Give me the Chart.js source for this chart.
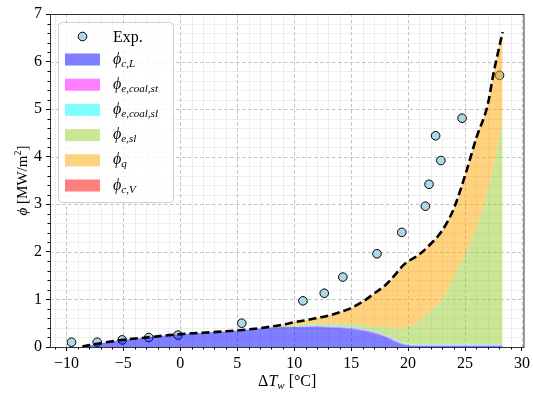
<!DOCTYPE html>
<html>
<head>
<meta charset="utf-8">
<script src="https://cdn.jsdelivr.net/npm/chart.js@4.4.1/dist/chart.umd.min.js"></script>
<style>
  html, body { margin: 0; padding: 0; background: #fff; }
  #wrap { width: 533px; height: 394px; }
</style>
</head>
<body>
<div id="wrap"><canvas id="fluxChart" width="533" height="394"></canvas></div>
<script>
// wall superheat grid of the model [°C]
const deltaT = [-8.6, -7, -5, -3, -1, 0, 2, 4, 6, 8, 9, 10, 11, 12, 13, 14, 15, 16, 17, 18,
  18.5, 19, 19.5, 20, 20.5, 21, 22, 23, 24, 25, 26, 27, 27.5, 28, 28.3];

// heat flux partition [MW/m2], stacked in this order
const phiCL = [0.01, 0.08, 0.15, 0.20, 0.25, 0.27, 0.30, 0.33, 0.37, 0.41, 0.42, 0.42, 0.42, 0.42, 0.41, 0.40, 0.38, 0.34, 0.29, 0.21,
  0.16, 0.10, 0.05, 0.03, 0.02, 0.02, 0.02, 0.02, 0.02, 0.02, 0.02, 0.02, 0.02, 0.02, 0.02];
const phiCoalSt = [0, 0, 0, 0, 0, 0, 0, 0, 0, 0, 0, 0, 0.01, 0.02, 0.02, 0.02, 0.02, 0.02, 0.02, 0.02,
  0.02, 0.02, 0.02, 0.01, 0.01, 0.01, 0.01, 0.01, 0.01, 0.01, 0.01, 0.01, 0.01, 0.01, 0.01];
const phiCoalSl = [0, 0, 0, 0, 0, 0, 0, 0, 0, 0, 0, 0, 0.01, 0.02, 0.02, 0.02, 0.02, 0.02, 0.02, 0.02,
  0.02, 0.02, 0.02, 0.03, 0.03, 0.03, 0.03, 0.03, 0.03, 0.03, 0.03, 0.03, 0.03, 0.03, 0.03];
const phiESl = [0, 0, 0, 0, 0, 0, 0, 0, 0, 0.01, 0.02, 0.05, 0.05, 0.04, 0.05, 0.06, 0.07, 0.09, 0.11, 0.16,
  0.20, 0.25, 0.30, 0.35, 0.41, 0.49, 0.69, 0.94, 1.39, 1.89, 2.44, 3.24, 3.74, 4.34, 4.79];
const phiQ = [0, 0, 0, 0, 0, 0, 0, 0, 0, 0.01, 0.03, 0.05, 0.07, 0.11, 0.16, 0.23, 0.33, 0.48, 0.68, 0.89,
  1.02, 1.17, 1.31, 1.38, 1.40, 1.40, 1.42, 1.45, 1.45, 1.65, 1.90, 1.80, 1.95, 1.90, 1.77];
const phiCV = [0, 0, 0, 0, 0, 0, 0, 0, 0, 0, 0, 0, 0, 0, 0, 0, 0, 0, 0, 0,
  0, 0, 0, 0, 0, 0, 0, 0, 0, 0, 0, 0, 0, 0, 0];

// total model heat flux
const phiTotal = [0.01, 0.08, 0.15, 0.20, 0.25, 0.27, 0.30, 0.33, 0.37, 0.43, 0.47, 0.52, 0.56, 0.61, 0.66, 0.73, 0.82, 0.95, 1.12, 1.30,
  1.42, 1.56, 1.70, 1.80, 1.87, 1.95, 2.17, 2.45, 2.90, 3.60, 4.40, 5.10, 5.75, 6.30, 6.62];

// measurements
const expDeltaT = [-9.55, -7.3, -5.1, -2.77, -0.2, 5.4, 10.77, 12.64, 14.27, 17.27, 19.45, 21.52, 21.84, 22.42, 22.88, 24.74, 28.03];
const expPhi = [0.10, 0.10, 0.15, 0.20, 0.25, 0.50, 0.97, 1.13, 1.47, 1.96, 2.41, 2.96, 3.42, 4.44, 3.92, 4.81, 5.71];

const xTicks = [-10, -5, 0, 5, 10, 15, 20, 25, 30];
const yTicks = [0, 1, 2, 3, 4, 5, 6, 7];

const serif = '"Liberation Serif", "DejaVu Serif", serif';

const areas = [
  { sub: 'c,L', values: phiCL, color: 'rgba(0, 0, 255, 0.5)' },
  { sub: 'e,coal,st', values: phiCoalSt, color: 'rgba(255, 0, 255, 0.5)' },
  { sub: 'e,coal,sl', values: phiCoalSl, color: 'rgba(0, 255, 255, 0.5)' },
  { sub: 'e,sl', values: phiESl, color: 'rgba(154, 205, 50, 0.5)' },
  { sub: 'q', values: phiQ, color: 'rgba(255, 165, 0, 0.5)' },
  { sub: 'c,V', values: phiCV, color: 'rgba(255, 0, 0, 0.5)' }
];

const toPoints = (xs, ys) => xs.map((x, i) => ({ x, y: ys[i] }));

const areaSets = areas.map((a, i) => ({
  type: 'line',
  label: 'phi_' + a.sub,
  data: toPoints(deltaT, a.values),
  stack: 'model',
  fill: i === 0 ? 'origin' : '-1',
  backgroundColor: a.color,
  borderWidth: 0,
  pointRadius: 0,
  cubicInterpolationMode: 'monotone',
  order: 5
}));

const totalSet = {
  type: 'line',
  label: 'total',
  data: toPoints(deltaT, phiTotal),
  stack: 'total',
  fill: false,
  borderColor: '#000',
  borderWidth: 2.6,
  borderDash: [8, 4],
  pointRadius: 0,
  cubicInterpolationMode: 'monotone',
  order: 0
};

const expSet = {
  type: 'scatter',
  label: 'Exp.',
  data: toPoints(expDeltaT, expPhi),
  stack: 'exp',
  backgroundColor: 'lightblue',
  borderColor: '#000',
  borderWidth: 1,
  pointRadius: 4.3,
  order: 10
};

// minor/major grid under the data
const gridPlugin = {
  id: 'mplGrid',
  beforeDatasetsDraw(chart) {
    const { ctx, chartArea: a, scales: { x, y } } = chart;
    ctx.save();
    ctx.lineWidth = 0.6;
    ctx.strokeStyle = '#e4e4e4';
    for (let v = -11; v <= 30; v += 1) {
      if (v % 5 === 0) continue;
      const px = Math.round(x.getPixelForValue(v)) + 0.5;
      ctx.beginPath(); ctx.moveTo(px, a.top); ctx.lineTo(px, a.bottom); ctx.stroke();
    }
    for (let k = 1; k < 35; k++) {
      if (k % 5 === 0) continue;
      const py = Math.round(y.getPixelForValue(k * 0.2)) + 0.5;
      ctx.beginPath(); ctx.moveTo(a.left, py); ctx.lineTo(a.right, py); ctx.stroke();
    }
    ctx.strokeStyle = '#b4b4b4';
    ctx.lineWidth = 0.8;
    ctx.setLineDash([3.5, 2.5]);
    xTicks.forEach((v) => {
      const px = Math.round(x.getPixelForValue(v)) + 0.5;
      ctx.beginPath(); ctx.moveTo(px, a.top); ctx.lineTo(px, a.bottom); ctx.stroke();
    });
    yTicks.forEach((v) => {
      const py = Math.round(y.getPixelForValue(v)) + 0.5;
      ctx.beginPath(); ctx.moveTo(a.left, py); ctx.lineTo(a.right, py); ctx.stroke();
    });
    ctx.restore();
  },
  afterDatasetsDraw(chart) {
    const { ctx, chartArea: a, scales: { x, y } } = chart;
    ctx.save();
    // spines
    ctx.strokeStyle = '#333';
    ctx.lineWidth = 1;
    ctx.strokeRect(a.left + 0.5, a.top + 0.5, a.right - a.left - 1, a.bottom - a.top);
    // minor ticks
    ctx.strokeStyle = '#000';
    ctx.beginPath();
    for (let v = -11; v <= 30; v += 1) {
      if (v % 5 === 0) continue;
      const px = Math.round(x.getPixelForValue(v)) + 0.5;
      ctx.moveTo(px, a.bottom); ctx.lineTo(px, a.bottom + 2.5);
    }
    for (let k = 1; k < 35; k++) {
      if (k % 5 === 0) continue;
      const py = Math.round(y.getPixelForValue(k * 0.2)) + 0.5;
      ctx.moveTo(a.left, py); ctx.lineTo(a.left - 2.5, py);
    }
    ctx.stroke();
    ctx.restore();
  }
};

// axis titles and legend with sub/superscripts
const drawRuns = (ctx, runs, x, y) => {
  let cx = x;
  runs.forEach((r) => {
    ctx.font = r.font;
    ctx.fillText(r.text, cx, y + (r.dy || 0));
    cx += ctx.measureText(r.text).width;
  });
  return cx;
};
const runsWidth = (ctx, runs) => runs.reduce((w, r) => {
  ctx.font = r.font;
  return w + ctx.measureText(r.text).width;
}, 0);

const textPlugin = {
  id: 'mplText',
  afterDraw(chart) {
    const { ctx, chartArea: a } = chart;
    ctx.save();
    ctx.fillStyle = '#000';
    ctx.textBaseline = 'alphabetic';
    ctx.textAlign = 'left';

    const xTitle = [
      { text: 'Δ', font: `16px ${serif}` },
      { text: 'T', font: `italic 16px ${serif}` },
      { text: 'w', font: `italic 11px ${serif}`, dy: 3 },
      { text: ' [°C]', font: `16px ${serif}` }
    ];
    const xw = runsWidth(ctx, xTitle);
    drawRuns(ctx, xTitle, (a.left + a.right) / 2 - xw / 2, 386);

    const yTitle = [
      { text: 'ϕ', font: `italic 15px ${serif}` },
      { text: ' [MW/m', font: `15px ${serif}` },
      { text: '2', font: `10px ${serif}`, dy: -6 },
      { text: ']', font: `15px ${serif}` }
    ];
    const yw = runsWidth(ctx, yTitle);
    ctx.save();
    ctx.translate(27, (a.top + a.bottom) / 2);
    ctx.rotate(-Math.PI / 2);
    drawRuns(ctx, yTitle, -yw / 2, 0);
    ctx.restore();

    // legend box
    const bx = 58.5, by = 22.5, bw = 115, bh = 180;
    ctx.beginPath();
    ctx.roundRect(bx, by, bw, bh, 4);
    ctx.fillStyle = 'rgba(255, 255, 255, 0.8)';
    ctx.fill();
    ctx.strokeStyle = '#d0d0d0';
    ctx.lineWidth = 1;
    ctx.stroke();

    const patchX = 65, patchW = 35, textX = 113;
    ctx.beginPath();
    ctx.arc(patchX + patchW / 2, 36.5, 4.3, 0, Math.PI * 2);
    ctx.fillStyle = 'lightblue';
    ctx.fill();
    ctx.strokeStyle = '#000';
    ctx.stroke();
    ctx.fillStyle = '#000';
    ctx.font = `16px ${serif}`;
    ctx.fillText('Exp.', textX, 41.5);

    areas.forEach((s, i) => {
      const cy = 59.5 + i * 25.2;
      ctx.fillStyle = s.color;
      ctx.fillRect(patchX, cy - 6, patchW, 12);
      ctx.fillStyle = '#000';
      drawRuns(ctx, [
        { text: 'ϕ', font: `italic 16px ${serif}` },
        { text: s.sub, font: `italic 11px ${serif}`, dy: 3 }
      ], textX, cy + 4);
    });
    ctx.restore();
  }
};

const fmt = (v) => String(v).replace('-', '\u2212');

new Chart(document.getElementById('fluxChart'), {
  data: { datasets: [...areaSets, totalSet, expSet] },
  options: {
    responsive: false,
    devicePixelRatio: 1,
    animation: false,
    layout: { padding: { top: 14, right: 6, left: 0, bottom: 0 } },
    plugins: { legend: { display: false }, tooltip: { enabled: false } },
    scales: {
      x: {
        type: 'linear',
        min: -11.44,
        max: 30.22,
        afterFit: (s) => { s.height = 47; },
        afterBuildTicks: (s) => { s.ticks = xTicks.map((v) => ({ value: v })); },
        ticks: { callback: fmt, font: { family: serif, size: 16 }, color: '#000', padding: 3, maxRotation: 0 },
        grid: { drawOnChartArea: false, drawTicks: true, tickLength: 4, tickColor: '#000', tickWidth: 1 },
        border: { display: false }
      },
      y: {
        type: 'linear',
        stacked: true,
        min: 0,
        max: 7,
        afterFit: (s) => { s.width = 50; },
        afterBuildTicks: (s) => { s.ticks = yTicks.map((v) => ({ value: v })); },
        ticks: { callback: fmt, font: { family: serif, size: 16 }, color: '#000', padding: 4 },
        grid: { drawOnChartArea: false, drawTicks: true, tickLength: 4, tickColor: '#000', tickWidth: 1 },
        border: { display: false }
      }
    }
  },
  plugins: [gridPlugin, textPlugin]
});
</script>
</body>
</html>
